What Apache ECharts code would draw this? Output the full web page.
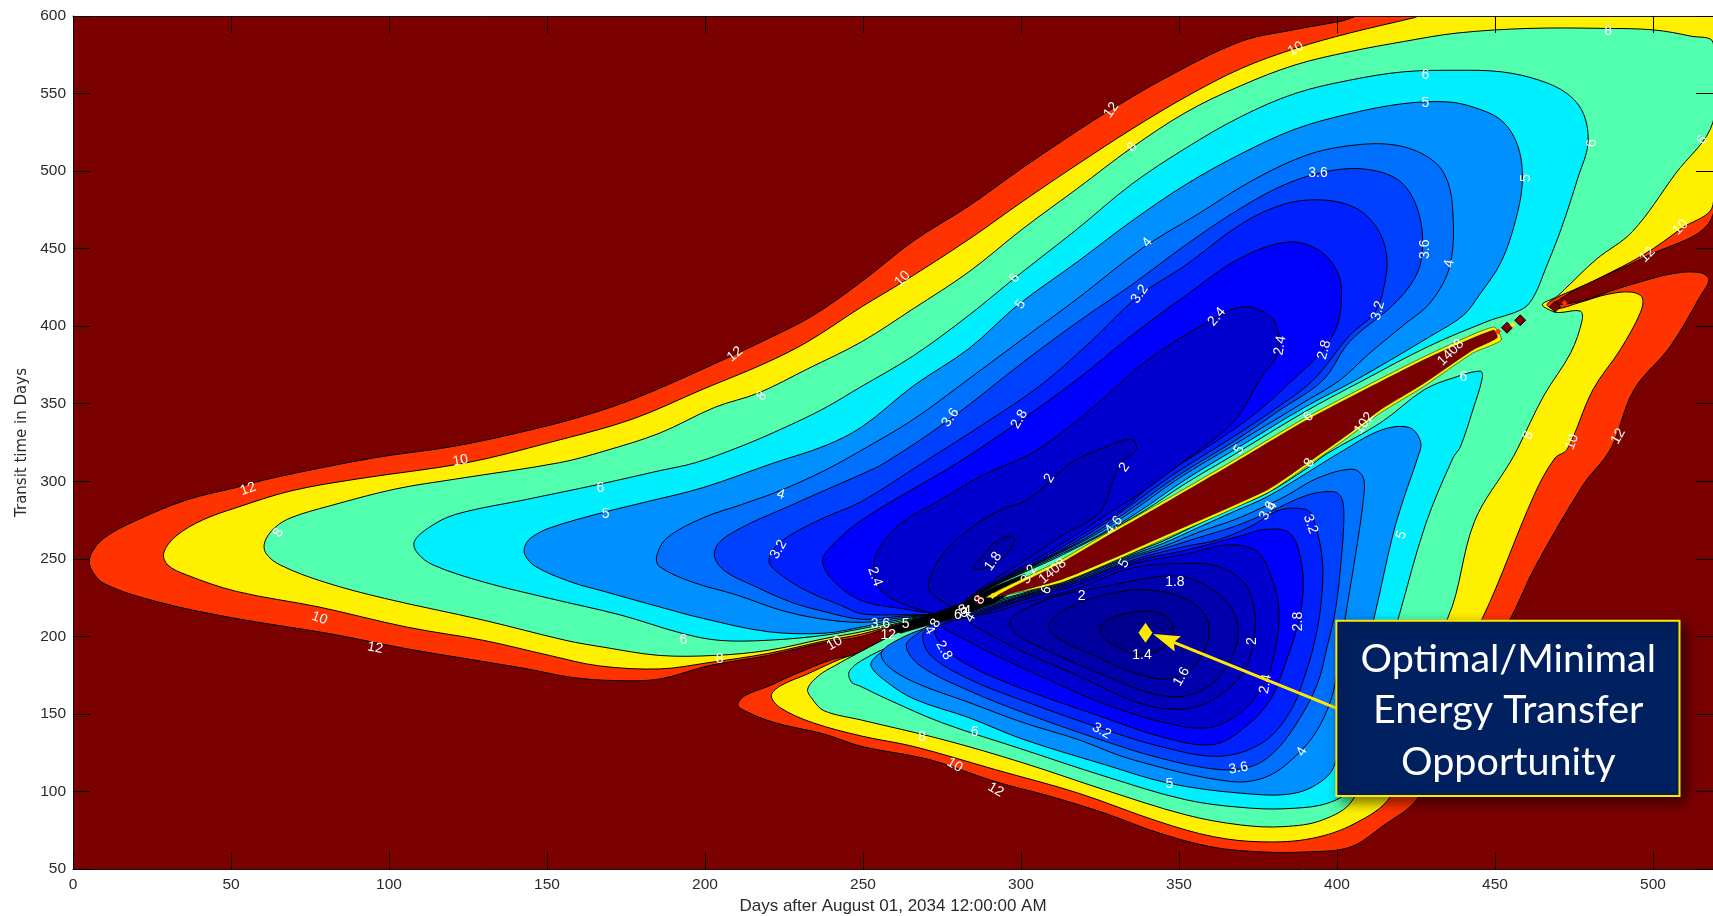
<!DOCTYPE html>
<html>
<head>
<meta charset="utf-8">
<style>html,body{margin:0;padding:0;background:#fff}#c{width:1713px;height:916px}</style>
<script src="https://cdn.jsdelivr.net/npm/echarts@6/dist/echarts.min.js"></script>
</head>
<body>
<div id="c"></div>
<script>
// Contours: [days after Aug 1 2034, transit days]
const contour12 = [[272.5,212.5],[262,208],[249.6,200],[237.7,196],[220,187.7],[201,181],[185.6,172.5],[171.6,171.5],[157.7,173.6],[143.8,179],[124.7,185.5],[105.6,192],[81,201.8],[51.7,211.5],[27.3,222],[9.9,234],[5.6,244],[5.6,252.6],[9.9,263.5],[20.3,275],[36,288],[51.7,296],[63.8,302.4],[95,315],[121,322.7],[145.6,333.5],[163,343],[178.6,354],[199.5,372.5],[220,392],[234.3,407],[249.6,428.8],[266,455],[283.5,477.5],[300.7,502.4],[317.9,526],[328,539],[345.4,559.7],[369.5,583.5],[386,591],[402,597],[407,600],[519,600],[519,472],[496.9,444],[478,426.6],[471,418],[468.6,414],[477,416],[486.5,422.6],[495,428],[506.5,434],[515,434.5],[517.7,430],[515,419.4],[505.5,387],[494,359],[486.5,320.4],[478,298],[462.5,244],[456.5,218],[426,97],[414,77],[404,64],[390,61],[376.4,61],[361,64],[344,73],[326.5,86],[309,97],[291.6,106.5],[271,120.6],[249.6,129],[237.7,137],[222,144.4],[212.6,152],[210.4,156],[212.6,161.7],[220.3,168],[229,176],[241,185.5],[249.6,189],[263,203],[272,211]];
const contour10 = [[272,213],[262,208.5],[249.6,201.5],[237.7,197],[220,189],[201,183],[185.6,179],[166.4,181],[150.8,187.7],[130,197.4],[105.6,206],[77.7,219],[51.7,229],[36,239.6],[30,246],[28.7,253.7],[32.5,264.5],[41,275],[51.7,283],[69,293.8],[90,301.5],[124.7,312],[150.8,325],[176.9,340],[199.5,359.5],[218.6,375.7],[232.5,390],[249.6,412.5],[263,429],[283.5,456],[300.7,480.7],[318,504.5],[335,527],[352.3,548],[369.5,566],[386.7,579],[404,589],[424.6,599],[426,600],[519,600],[519,478.5],[509,463],[497,446],[483,431],[474.5,423],[470,419],[466.5,414],[469,411],[477,415.4],[485.5,420.5],[493,422],[496.6,418.4],[496,408.7],[489.7,385],[481,359],[472.8,320.4],[469,315],[462.5,291.6],[446,211.5],[417,97],[405.7,79.4],[392,69.7],[376.4,67.5],[361,70.8],[343.7,80.5],[318,99],[292,114],[266,129],[249.6,135.7],[234,144.4],[223.8,154],[221,161.7],[223.8,168],[232.5,175.8],[243,185.5],[249.6,190],[263,204],[272,211.5]];
const contour8 = [[273,214],[262,209],[249.6,203],[237.7,198.5],[220,191],[203,187.7],[185.6,187.7],[168,193],[156,197.4],[130,210.4],[98.6,224.5],[79.5,235],[65.6,246],[61,253.7],[60.7,261],[63.8,270],[69,276.5],[81,284],[102,295],[121,301.4],[154,312],[168,319.4],[185.6,331],[203,347.6],[217,357],[232.5,372.5],[249.6,390],[266,411.4],[283.5,435],[300.7,463],[318,489],[335,515],[352.3,538],[369.5,555],[386.7,568.4],[404,577],[421,583.5],[438,589],[460.8,592],[485,592],[500.3,591],[512,587],[519,583],[519,531.6],[507,498],[493.5,461],[482,443],[472,423.7],[469.5,419],[465,414],[467.7,410],[470,408.8],[477,409.7],[477.6,404],[474,383],[465.4,355],[457,320.4],[454.7,312],[443.5,274],[435,211.5],[405,94.6],[395.4,81.6],[383,77.3],[369.5,78.4],[352,85],[326.5,101],[300.7,118.4],[275,133.6],[249.6,146],[237.7,152],[234,159.5],[232.5,166],[236,174.7],[241,181],[248,188.8],[263,204.5],[272,212]];
const upper6 = [[275,215],[262,210],[249.6,205],[237.7,200.7],[220,197.5],[204.7,197.4],[193,201.8],[173.4,213.7],[150.8,224.5],[130,235],[114,246],[109,253.7],[108,261],[112.5,270],[121,278.6],[143.8,288.4],[166.4,298],[185.6,306.8],[197,312],[211.6,322.7],[225.6,335],[237.7,347],[249,360.5],[266,381],[283.5,407],[298,431],[318,463],[335,491.5],[352.3,515],[369.5,535],[386.7,550],[404,558.6],[421,564],[438,565],[452,564],[464,558.6],[472.8,550],[478,537],[479.4,517.5],[476.3,496],[471,463],[466,437],[462.5,420],[459,411.4],[447.5,403],[429,387],[408.5,365.3],[390,345],[367.3,317],[352,298.5],[339,281],[326,266],[310.5,250],[299.5,240],[291,232],[282,221]];
const upper5 = [[275,215],[262,211],[249.6,206],[237.7,202],[220,203],[199.5,211.5],[185.6,219],[168,229],[157.7,235],[146.4,245],[143,252.6],[143,258],[144.9,263.5],[151,270],[168,280],[182,287],[199.5,296],[222,312],[237.7,322.7],[249.6,335],[266,361.6],[283.5,385.5],[299,413.6],[318,441.7],[335,467.7],[352.3,491.5],[369.5,511],[386.7,527],[404,537],[421,543.5],[435,544.6],[443.5,541],[452,532.7],[457,517.5],[458.7,496],[457,472],[452,441.7],[445,420],[440,407],[430,394],[406,365.3],[390,348],[367.3,320],[352,301],[337,280],[324.5,265],[309.5,250],[299,240],[290.7,232],[281.7,221]];
const upper4 = [[275,215],[262,212],[249.6,209],[236,211.5],[223.8,217],[210,226.7],[196,235],[185.6,245],[184.7,251.6],[188,263.5],[199.5,276.5],[211.6,285],[223.8,294],[237.7,306.8],[249,319.4],[266,340],[283.5,366],[300.7,392],[318,418],[338.5,450.4],[355.8,472],[373,493.7],[390,510],[404,516.4],[417.7,517],[428,510],[434,498],[436.6,476],[435.8,439.6],[429.8,415.8],[421,400.6],[410,382],[401,365.3],[390,351.5],[367.3,323.4],[350,302],[335,280.5],[323,265],[308.5,250],[298.5,240],[290.4,232],[281.4,221]];
const upper36 = [[275,215],[262,213],[249.6,211],[237.7,216],[227.3,222],[215,233],[206.4,242],[203,251.6],[204.7,261],[213.4,272],[225.6,283],[237.7,294],[249.6,304.6],[257,312],[277.5,340],[300.7,376.8],[318,402.8],[335,426.6],[352.3,452.6],[369.5,476],[385,492.6],[400.5,501],[412.6,500],[421,491.5],[426,472],[427,448],[424.6,431],[417.7,413.6],[404,390],[395.6,365.3],[382,346],[367.3,325.6],[350,304],[334,281],[322,265],[308,250],[298,240],[290.2,232],[281.2,221]];
const upper32 = [[275,215],[262,214],[249.6,214.6],[243,220],[232.5,229],[224,239.7],[220.3,248],[222,257],[227.3,265.6],[237.7,276.5],[249.6,287],[269,312],[289,338],[306,361.6],[321,388],[337,419],[352.3,439.6],[369.5,465.6],[383,478.5],[395,481.4],[405.7,476.4],[412.6,463.4],[415.7,446],[415,426.6],[412,409],[404,394],[392.5,365.3],[380,346],[367.3,328.8],[348,304],[333,282],[320.5,265],[307.5,250],[297.5,240],[290,232],[281,221]];
const upper28 = [[275,215],[262,218],[249.6,223],[241,235],[237.2,248],[239.5,257],[249.6,275],[280,312],[299,338],[318,366],[335,394],[352.3,420],[369.5,444],[385,454.3],[395,448],[400.5,433],[401.4,415.8],[399.7,398.4],[395,383],[386,365.3],[375,345],[362,326],[344,302],[331.5,281],[319,265],[306.5,250],[297,240],[289.5,232],[280.5,221]];
const upper24 = [[275.5,214],[262,221.5],[255.5,230],[253.3,245],[255.5,258],[262,273],[274.5,288],[287,303],[305,320],[323,348],[340,378],[362,406],[371,412.5],[379,406],[381.6,394],[381,381],[376.4,368],[367.3,338.5],[352.3,314],[339,294],[329,281],[317,265],[305,250],[296,240],[289,232],[280,221]];
const upper2 = [[280,218],[274.5,223.5],[271,230],[271,236],[274.5,251],[282,266.6],[293.6,281.7],[302,288],[316,312],[324.8,320.5],[335,327],[336.5,320.5],[331.7,312],[329,300],[325,280],[313,265],[302,250],[294,240],[288,232],[283,224]];
const upper18 = [[285,244],[287,250],[291.4,260],[296.6,264.8],[298,262],[295.6,253.6],[289,244]];
const lower6 = [[270,204],[285,219],[300,227.5],[318,239.5],[335,253.5],[345,261.5],[356.7,273],[367.3,282.8],[377.9,292.3],[390.5,308.4],[397,318],[413.7,337.6],[427.6,359],[437,366.8],[445.4,371],[446,366.8],[443,346],[439,322],[436.7,315],[428,272],[419.4,211.5],[412.6,163.9],[407.4,120.6],[404,101],[397,92.4],[386.7,89.2],[373,89.2],[352.3,94.6],[326.5,109.8],[300.7,127],[274.9,144.4],[257.7,159.5],[249,168],[246.4,170.4],[245.6,177],[249.6,184.5],[262,197]];
const lower5 = [[271,205],[285,218],[300,226.8],[318,238.8],[335,252.5],[345,260],[356.7,270.7],[367.3,280.4],[377.9,290],[390.5,305.4],[400.5,318],[414,333],[423,334.6],[426.5,325],[425.5,315],[421.2,289.4],[417.7,265.6],[411.7,211.5],[405.7,163.9],[400.5,124.9],[397,109.8],[386.7,98.9],[369.5,98.9],[346.6,105.4],[326.5,117.3],[300.7,133.6],[283.5,147.6],[266.3,159.5],[257.7,170.4],[252.5,181.2],[255.1,188.8],[262,197.4]];
const lower4 = [[272,207],[285,217],[300,226],[318,238],[335,251.5],[345,258],[356.7,267.5],[367.3,275],[375.9,282.6],[384.3,291],[393.8,302],[404.8,307.8],[408.3,302.4],[408.3,287.3],[405.7,250.5],[403.1,218],[400.5,185.5],[398.8,163.9],[394.5,142.2],[388.5,126],[378.1,109.8],[366,106.5],[335.1,120.6],[317.9,133.6],[300.7,144.4],[283.5,157.4],[266.3,170.4],[257.7,181.2],[255.9,189.9],[262.8,199.6]];
const lower36 = [[272,208],[285,216],[300,225.5],[318,237],[335,250.5],[345,256.5],[356.7,264],[367.3,270.7],[377.9,279.5],[390.5,291],[399,293.3],[401.4,289.4],[402.2,278.6],[401.4,250.5],[399.6,218],[397,194.2],[393.6,168.2],[386.7,142.2],[379.9,124.9],[373,116.2],[362.6,114.1],[343.7,121.7],[324.8,133.6],[300.7,150.9],[283.5,165],[268,181.2],[263.7,194.2],[268,202.8]];
const lower32 = [[272,207],[285,215],[300,225],[318,236],[335,249],[352,258],[362,262.1],[372.5,270.7],[382,281.5],[390.5,281.5],[392.8,274.3],[395.3,250.5],[395.3,228.8],[393.6,202.8],[390.2,176.9],[385,150.9],[376.4,131.4],[362.6,122.7],[343.7,129.2],[324.8,141.1],[300.7,158.5],[283.5,172.5],[271.4,187.7],[268.9,200.7]];
const lower28 = [[273,205],[285,214],[300,224],[318,235],[335,248],[352,255.5],[370,265],[377.3,269],[385,266.7],[388.5,250.5],[389.3,228.8],[387.6,207.2],[384.2,185.5],[379,159.5],[371.3,142.2],[361,130.3],[345.4,134.7],[324.8,148.7],[300.7,166],[283.5,181.2],[275,194.2]];
const lower24 = [[275,207],[285,213],[300,223],[318,233.5],[335,246.5],[352,253],[366,259],[374.7,254.8],[379,239.7],[381.6,218],[380.7,194.2],[377.3,170.4],[369.5,150.9],[359.2,141.1],[345.4,144.4],[326.5,156.3],[309.3,171.5],[292,187.7],[281.8,198.5]];
const lower2 = [[283.5,210.4],[293.8,217],[300,221],[318,231],[335,244],[352.3,247],[362.6,245],[370.4,235],[373.8,218],[373.8,199.6],[370.4,177],[361,159.5],[350.6,153],[336.8,157.4],[318,174.7],[300.7,190],[288.6,203]];
const lower18 = [[296.4,209.3],[300.7,217],[312.7,226.7],[326.5,232],[340,237.5],[350.6,238.6],[359.2,232],[366,220],[368.7,205],[367,187.7],[361,170.4],[352.3,161.7],[342,162.8],[326.5,174.7],[309.3,190],[299,200.7]];
const lower16 = [[308.8,207],[314.5,218],[326.5,226.7],[338.6,230],[350.6,225.6],[357.5,215.8],[359.6,205],[358.3,192],[354,179],[347,172.5],[336.8,175.8],[323,187.7],[312,198.5]];
const lower14 = [[325,205],[328.2,211.5],[338.6,216.3],[345.4,213.7],[348,207],[348,198.5],[344.6,192],[337.7,187.7],[331.7,192],[326.5,198.5]];

// The narrow ridge between the two lobes
const ridgeYellow = [[289,225],[312.4,249],[325,264],[344,286],[367.3,313.6],[390,341],[414.8,367.3],[429.6,382.3],[449.6,399.5],[452,391],[443,382.7],[427.4,361],[413.7,344],[404,329],[390.5,309.6],[377.9,292.4],[344,261.6],[330.4,249.4],[312.4,234.4]];
const ridgeDark = [[292.4,226],[312.4,247],[325,262],[344,284],[367.3,311.6],[390,339],[414.8,365.3],[429.6,380.3],[449.6,397.5],[450.7,392.6],[443,384.7],[427.4,363],[413.7,346],[404,331],[390.5,311.6],[377.9,294.4],[344,263.6],[330.4,251.4],[312.4,236.4]];
const ridgeCentre = [[258,205],[272,214.5],[282,222],[292,232.5],[301,240],[303,236],[292,222],[282,214],[272,208],[262,202]];
const ridgeBlocks = [[286.5,224],[453.8,399],[458,403.8],[469,412.5]];
const ridgeSparks = [[291,226,'#ffe600'],[451,396.5,'#ff3300'],[455.6,401,'#ffe600'],[472,415,'#ff3300']];

const levelFills = ['#ff3300','#fff000','#52ffae','#00efff','#0090ff','#0070ff','#0040ff','#0020ff','#0000ff','#0000cf','#0000bd','#0000ad','#00009f','#00008f'];

const rings = [
  [contour12,0],[contour10,1],[contour8,2],
  [upper6,3],[lower6,3],[upper5,4],[lower5,4],[upper4,5],[lower4,5],
  [upper36,6],[lower36,6],[upper32,7],[lower32,7],[upper28,8],[lower28,8],
  [upper24,9],[lower24,9],[upper2,10],[lower2,10],[upper18,11],[lower18,11],[lower16,12],[lower14,13]
];

const labelRows = [
 [55.4,295,'12'],[122.6,313.4,'10'],[65,266.8,'8'],[209.5,381.8,'12'],[218,355,'8'],[262.5,430.6,'10'],[328.6,539.3,'12'],[335.2,515.3,'8'],[387,578.8,'10'],[485.8,590,'8'],
 [428,562,'6'],[428,543.5,'5'],[480.6,518,'6'],[515.6,520,'6'],[459.8,495.5,'5'],[394,499,'3.6'],[340,453.9,'4'],[298,431,'6'],[299.9,414,'5'],[337.6,420.7,'3.2'],
 [362,406,'2.4'],[428,449.6,'3.6'],[435.6,440.4,'4'],[413,410,'3.2'],[382,387.5,'2.4'],[396,384.7,'2.8'],[436,383,'1408'],[440,367,'6'],[391,341.6,'6'],[460.5,329.6,'8'],
 [474.4,325.4,'10'],[489,329,'12'],[498.3,446,'12'],[508.7,463.7,'10'],[277.7,341,'3.6'],[299.5,340,'2.8'],[369,320.4,'5'],[408.6,337.4,'102'],[391.3,312,'8'],[329.4,271.7,'4.6'],
 [309,302,'2'],[332.7,309,'2'],[166.9,295.7,'6'],[168.6,278.8,'5'],[224,291.5,'4'],[223.3,256,'3.2'],[255.5,208,'3.6'],[263.5,208,'5'],[258,201,'12'],[241,195.5,'10'],
 [193.2,197.6,'6'],[204.6,185,'8'],[78,211.7,'10'],[95.6,192.6,'12'],[253.8,238.5,'2.4'],[291.2,248.4,'1.8'],[302.6,240,'3.2'],[310,242,'1408'],[308,230,'6'],[332.6,247,'5'],
 [319.2,225.8,'2'],[287,223.5,'8'],[281.7,217,'8'],[280,214,'6'],[283,216,'4'],[284,212,'4'],[282,215,'3'],[273,208.5,'8'],[271,204,'4'],[275.6,191,'2.8'],
 [348.7,235,'1.8'],[373.3,197,'2'],[387.8,209.6,'2.8'],[338.3,187.7,'1.4'],[350.8,174,'1.6'],[377.4,169.3,'2.4'],[391.6,272.4,'3.2'],[378,281,'3.6'],[379.5,284,'4'],[420.4,265.4,'5'],
 [325.5,139,'3.2'],[368.8,115,'3.6'],[388.9,125.6,'4'],[347,104.4,'5'],[285.3,138.3,'6'],[268.7,134.7,'8'],[279,117,'10'],[292,101,'12']
];
const labelAngles = [
 20,10,60,40,50,45,55,50,30,0,
 0,0,90,60,90,0,50,55,55,55,
 50,90,80,75,80,75,45,0,50,70,
 70,60,45,45,55,60,55,55,60,50,
 60,55,0,0,-15,60,0,0,0,30,
 0,0,-20,-10,-70,55,60,40,60,60,
 0,60,30,0,0,60,0,60,-60,-60,
 0,90,90,0,60,80,-70,60,60,70,
 -30,10,60,0,0,0,-30,-30
];

const xTickStep = 50, xMax = 519, yMin = 50, yMax = 600;
const optimum = [339.4,202.4];
const calloutCorners = [[399.8,210.1],[508.4,97.1]];
const calloutLines = ['Optimal/Minimal','Energy Transfer','Opportunity'];
const calloutLineDays = [454.2,454.2,454.2];
const calloutLineTransit = [185.5,152.1,118.7];
const arrowEnds = [[399.8,153.7],[341.8,201.6]];

const axisFont = {fontFamily:'Liberation Sans',fontSize:15.5,color:'#2b2b2b'};
const tick = {show:true,inside:true,length:17,lineStyle:{color:'#000',width:1}};
const line = {show:true,onZero:false,lineStyle:{color:'#111',width:1}};

const chart = echarts.init(document.getElementById('c'),null,{renderer:'canvas'});
chart.setOption({
  animation:false,
  backgroundColor:'#ffffff',
  grid:{left:73,top:16,width:1640,height:853,backgroundColor:'#7b0000',show:true,borderWidth:0,outerBoundsMode:'none'},
  xAxis:[
    {type:'value',min:0,max:xMax,interval:xTickStep,position:'bottom',z:10,axisLine:line,axisTick:tick,splitLine:{show:false},
     axisLabel:Object.assign({showMaxLabel:false,margin:8},axisFont),
     name:'Days after August 01, 2034 12:00:00 AM',nameLocation:'middle',nameGap:28,nameTextStyle:{fontFamily:'Liberation Sans',fontSize:17,color:'#2b2b2b'}},
    {type:'value',min:0,max:xMax,interval:xTickStep,position:'top',z:10,axisLine:line,axisTick:tick,splitLine:{show:false},axisLabel:{show:false}}
  ],
  yAxis:[
    {type:'value',min:yMin,max:yMax,interval:xTickStep,position:'left',z:10,axisLine:line,axisTick:tick,splitLine:{show:false},
     axisLabel:Object.assign({margin:7},axisFont),
     name:'Transit time in Days',nameLocation:'middle',nameGap:42,nameTextStyle:{fontFamily:'DejaVu Sans',fontSize:15,color:'#2b2b2b'}},
    {type:'value',min:yMin,max:yMax,interval:xTickStep,position:'right',z:10,axisLine:line,axisTick:tick,splitLine:{show:false},axisLabel:{show:false}}
  ],
  series:[
    {type:'custom',clip:true,silent:true,z:2,data:rings.map((r,i)=>[r[0][0][0],r[0][0][1],i]),
     renderItem(p,api){
       const r=rings[api.value(2)];
       return {type:'polygon',shape:{points:r[0].map(q=>api.coord(q)),smooth:0.35},
               style:{fill:levelFills[r[1]],stroke:'#000',lineWidth:1}};
     }},
    {type:'custom',clip:true,silent:true,z:3,data:[[292,228]],
     renderItem(p,api){
       const poly=(a,f,w,s)=>({type:'polygon',shape:{points:a.map(q=>api.coord(q)),smooth:s},style:{fill:f,stroke:'#000',lineWidth:w}});
       return {type:'group',children:[poly(ridgeCentre,'#000',0.5,0),poly(ridgeYellow,'#fff000',0.5,0.2),poly(ridgeDark,'#7b0000',0.4,0.2)]};
     }},
    {type:'scatter',silent:true,z:4,symbol:'diamond',symbolSize:11,itemStyle:{color:'#7b0000',opacity:1,borderColor:'#000',borderWidth:1},data:ridgeBlocks},
    {type:'scatter',silent:true,z:4,symbol:'diamond',symbolSize:6,data:ridgeSparks.map(s=>({value:[s[0],s[1]],itemStyle:{color:s[2],opacity:1}}))},
    {type:'custom',clip:false,silent:true,z:5,data:labelRows.map((r,i)=>[r[0],r[1],i]),
     renderItem(p,api){
       const c=api.coord([api.value(0),api.value(1)]);
       const i=api.value(2);
       return {type:'text',x:c[0],y:c[1],rotation:labelAngles[i]*Math.PI/180,
         style:{text:labelRows[i][2],fill:'#ffffff',font:'14px "Liberation Sans"',align:'center',verticalAlign:'middle'}};
     }},
    {type:'scatter',silent:true,z:6,symbol:'diamond',symbolSize:[14,20],itemStyle:{color:'#ffe800',opacity:1},data:[optimum]},
    {type:'custom',clip:false,silent:true,z:7,data:[arrowEnds[0]],
     renderItem(p,api){
       const a=api.coord(arrowEnds[0]),b=api.coord(arrowEnds[1]);
       const ang=Math.atan2(a[1]-b[1],a[0]-b[0]);
       const h=28,w=0.3;
       const p1=[b[0]+h*Math.cos(ang-w),b[1]+h*Math.sin(ang-w)];
       const p2=[b[0]+h*Math.cos(ang+w),b[1]+h*Math.sin(ang+w)];
       const inner=[b[0]+h*0.8*Math.cos(ang),b[1]+h*0.8*Math.sin(ang)];
       const tl=api.coord(calloutCorners[0]),br=api.coord(calloutCorners[1]);
       const kids=[
         {type:'line',shape:{x1:a[0],y1:a[1],x2:inner[0],y2:inner[1]},style:{stroke:'#ffe800',lineWidth:3}},
         {type:'polygon',shape:{points:[b,p1,inner,p2]},style:{fill:'#ffe800'}},
         {type:'rect',shape:{x:tl[0],y:tl[1],width:br[0]-tl[0],height:br[1]-tl[1]},
          style:{fill:'#002060',stroke:'#ffe800',lineWidth:2,shadowBlur:12,shadowOffsetX:5,shadowOffsetY:5,shadowColor:'rgba(0,0,0,0.55)'}}
       ];
       calloutLines.forEach((t,i)=>{
         const c=api.coord([calloutLineDays[i],calloutLineTransit[i]]);
         kids.push({type:'text',x:c[0],y:c[1],style:{text:t,fill:'#ffffff',font:'39.5px Lato',align:'center',verticalAlign:'middle'}});
       });
       return {type:'group',children:kids};
     }}
  ]
});
</script>
</body>
</html>
